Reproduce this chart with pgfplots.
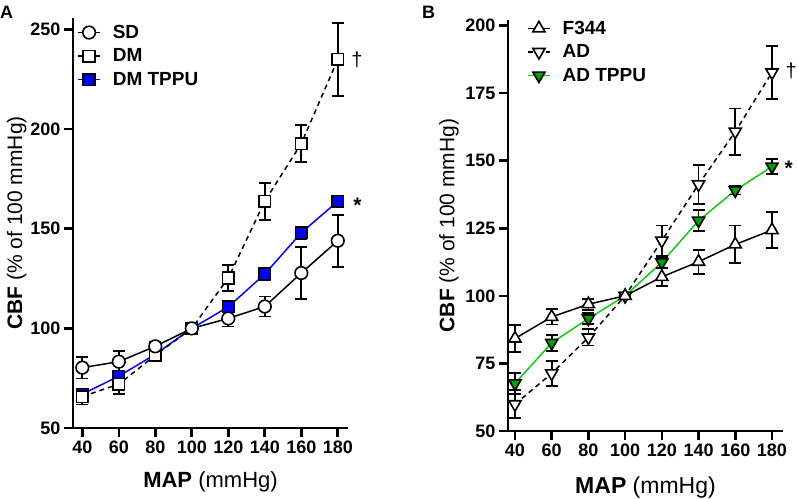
\documentclass[border=0pt]{standalone}
\usepackage{fontspec}
\setmainfont{Liberation Sans}
\usepackage{pgfplots}
\pgfplotsset{compat=1.18}
\definecolor{myblue}{RGB}{0,0,255}
\definecolor{gfill}{RGB}{0,160,0}
\definecolor{gline}{RGB}{20,200,20}
\newcommand{\fs}[1]{\fontsize{#1}{#1}\selectfont}
\pgfplotsset{
  gp/.style={
    scale only axis,
    axis lines=left,
    axis line style={-, line width=2.8pt},
    tick align=outside,
    major tick length=9pt,
    every tick/.style={line width=2.6pt, black},
    /pgf/number format/assume math mode=true,
    tick label style={font=\bfseries\fs{18}},
    clip=false,
    legend cell align=left,
    legend style={draw=none, fill=none, font=\bfseries\fs{19}, row sep=5pt, inner sep=0pt},
    legend image code/.code={\draw[mark repeat=2, mark phase=2] plot coordinates {(0pt,0pt) (11pt,0pt) (22pt,0pt)}; \node[draw=none, fill=none, inner sep=0pt, minimum size=0pt] at (32pt,0pt) {};},
    error bars/y dir=both, error bars/y explicit,
    error bars/error bar style={line width=1.8pt, black, solid},
    error bars/error mark options={rotate=90, mark size=6pt, line width=1.8pt, black, solid},
  },
}
\begin{document}
\begin{tikzpicture}
\useasboundingbox (0pt,0pt) rectangle (799pt,-498pt);
\node[anchor=north west, inner sep=0pt, font=\bfseries\fs{18}] at (0pt,-6pt) {A};
\node[anchor=north west, inner sep=0pt, font=\bfseries\fs{18}] at (422pt,-6pt) {B};
% ---------------- Panel A
\begin{axis}[gp,
  at={(73pt,-428pt)}, anchor=south west,
  width=275pt, height=410pt,
  xmin=34.9, xmax=185.6, ymin=50, ymax=255.8,
  xtick={40,60,...,180}, ytick={50,100,150,200,250},
  xlabel={\textbf{MAP} (mmHg)},
  ylabel={\textbf{CBF} (\% of 100 mmHg)},
  xlabel style={font=\fs{22}, at={(axis description cs:0.5,-0.144)}, anchor=base},
  ylabel style={font=\fs{21}, at={(axis description cs:-0.205,0.5)}, anchor=center, rotate=0},
  legend style={at={(axis description cs:0.015,0.988)}, anchor=north west},
]
\addplot[myblue, line width=1.5pt, mark=square*, mark size=5.8pt, mark options={fill=myblue, draw=black, line width=1.6pt}, forget plot]
 coordinates {(40,67) +- (0,2) (60,76) +- (0,2) (80,87) +- (0,1.5) (100,100) +- (0,0) (120,110.8) +- (0,2) (140,127.3) +- (0,1.5) (160,148) +- (0,3) (180,163.8) +- (0,1.5)};
\addplot[black, line width=1.5pt, dash pattern=on 5pt off 4pt, mark=square*, mark size=5.8pt, mark options={fill=white, draw=black, line width=1.6pt, solid}, forget plot]
 coordinates {(40,65.8) +- (0,4) (60,72) +- (0,5) (80,86.5) +- (0,2) (100,100) +- (0,0) (120,125.3) +- (0,6.5) (140,163.8) +- (0,9.3) (160,192.8) +- (0,9.2) (180,235) +- (0,18.4)};
\addplot[black, line width=1.5pt, mark=*, mark size=6.3pt, mark options={fill=white, draw=black, line width=1.6pt}, forget plot]
 coordinates {(40,80.3) +- (0,5.4) (60,83.3) +- (0,5.5) (80,91) +- (0,2) (100,100) +- (0,0) (120,105) +- (0,4) (140,111) +- (0,5) (160,127.8) +- (0,13) (180,144) +- (0,13)};
\addlegendimage{black, line width=1.5pt, mark=*, mark size=6.3pt, mark options={fill=white, draw=black, line width=1.6pt}}
\addlegendentry{SD}
\addlegendimage{black, line width=1.5pt, dash pattern=on 5pt off 4pt, mark=square*, mark size=5.8pt, mark options={fill=white, draw=black, line width=1.6pt, solid}}
\addlegendentry{DM}
\addlegendimage{myblue, line width=1.5pt, mark=square*, mark size=5.8pt, mark options={fill=myblue, draw=black, line width=1.6pt}}
\addlegendentry{DM TPPU}
\node[anchor=west, font=\fs{20}] at (axis cs:180,235) [xshift=10pt] {†};
\node[anchor=west, font=\bfseries\fs{21}] at (axis cs:180,162) [xshift=12pt] {*};
\end{axis}
% ---------------- Panel B
\begin{axis}[gp,
  at={(508pt,-431pt)}, anchor=south west,
  width=275pt, height=411pt,
  xmin=36.2, xmax=186, ymin=50, ymax=202,
  xtick={40,60,...,180}, ytick={50,75,100,125,150,175,200},
  xlabel={\textbf{MAP} (mmHg)},
  ylabel={\textbf{CBF} (\% of 100 mmHg)},
  xlabel style={font=\fs{23}, at={(axis description cs:0.5,-0.151)}, anchor=base},
  ylabel style={font=\fs{21}, at={(axis description cs:-0.215,0.5)}, anchor=center, rotate=0},
  legend style={at={(axis description cs:0.069,1.003)}, anchor=north west},
]
\addplot[gline, line width=1.5pt, mark=triangle*, mark size=7pt, mark options={fill=gfill, draw=black, line width=1.6pt, rotate=180}, forget plot]
 coordinates {(40,67.6) +- (0,4) (60,82.6) +- (0,3) (80,91.6) +- (0,2) (100,100) +- (0,0) (120,112.4) +- (0,2) (140,127.8) +- (0,3.8) (160,139) +- (0,1.5) (180,147.8) +- (0,2.8)};
\addplot[black, line width=1.5pt, dash pattern=on 5pt off 4pt, mark=triangle*, mark size=7pt, mark options={fill=white, draw=black, line width=1.6pt, solid, rotate=180}, forget plot]
 coordinates {(40,59.9) +- (0,5.2) (60,71.3) +- (0,4.6) (80,84.6) +- (0,3) (100,100) +- (0,0) (120,120.4) +- (0,5.6) (140,141.2) +- (0,7.3) (160,160.7) +- (0,8.6) (180,182.6) +- (0,9.9)};
\addplot[black, line width=1.5pt, mark=triangle*, mark size=7pt, mark options={fill=white, draw=black, line width=1.6pt}, forget plot]
 coordinates {(40,84.2) +- (0,5) (60,92.2) +- (0,2.8) (80,96.9) +- (0,2) (100,100) +- (0,0) (120,107) +- (0,3.5) (140,112.6) +- (0,4.4) (160,119) +- (0,7) (180,124.3) +- (0,6.6)};
\addlegendimage{black, line width=1.5pt, mark=triangle*, mark size=7pt, mark options={fill=white, draw=black, line width=1.6pt}}
\addlegendentry{F344}
\addlegendimage{black, line width=1.5pt, dash pattern=on 5pt off 4pt, mark=triangle*, mark size=7pt, mark options={fill=white, draw=black, line width=1.6pt, solid, rotate=180}}
\addlegendentry{AD}
\addlegendimage{gline, line width=1.5pt, mark=triangle*, mark size=7pt, mark options={fill=gfill, draw=black, line width=1.6pt, rotate=180}}
\addlegendentry{AD TPPU}
\node[anchor=west, font=\fs{20}] at (axis cs:180,183) [xshift=10pt] {†};
\node[anchor=west, font=\bfseries\fs{21}] at (axis cs:180,147) [xshift=9pt] {*};
\end{axis}
\end{tikzpicture}
\end{document}
